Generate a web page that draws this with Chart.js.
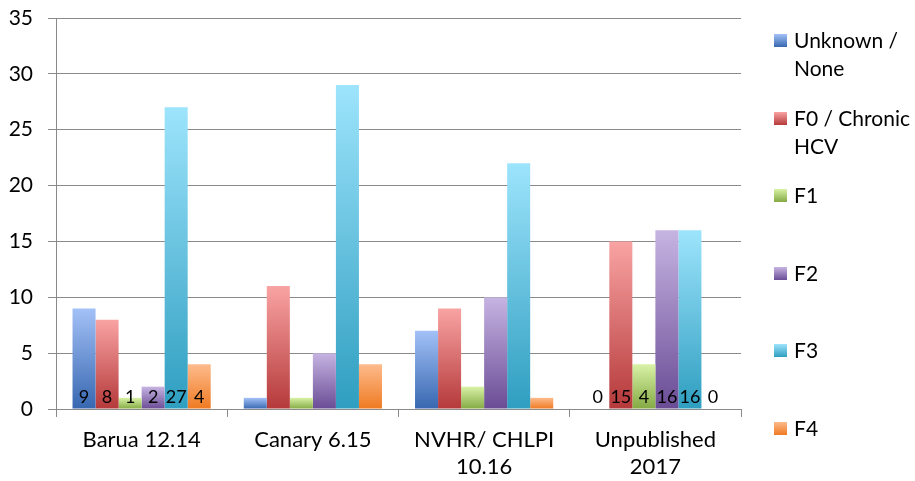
<!doctype html>
<html lang="en">
<head>
<meta charset="UTF-8">
<title>Fibrosis stage by study</title>
<script src="https://cdn.jsdelivr.net/npm/chart.js"></script>
<style>
body{margin:0;background:#fff;font-family:Lato,"Open Sans",sans-serif;}
#wrap{position:relative;width:915px;height:481px;}
#legend{position:absolute;left:774px;top:26px;}
.item{height:77.6px;display:flex;align-items:flex-start;}
.box{width:13px;height:13px;margin-top:8px;margin-right:7px;flex:none;}
.txt{font-size:21px;line-height:28px;color:#000;white-space:nowrap;}
</style>
</head>
<body>
<div id="wrap">
  <canvas id="chart" width="915" height="481"></canvas>
  <div id="legend"></div>
</div>
<script>
/* ---------- data ---------- */
const categories = ['Barua 12.14', 'Canary 6.15', ['NVHR/ CHLPI', '10.16'], ['Unpublished', '2017']];
const seriesNames = [['Unknown /', 'None'], ['F0 / Chronic', 'HCV'], ['F1'], ['F2'], ['F3'], ['F4']];
const unknownNone = [9, 1, 7, 0];
const f0 = [8, 11, 9, 15];
const f1 = [1, 1, 2, 4];
const f2 = [2, 5, 10, 16];
const f3 = [27, 29, 22, 16];
const f4 = [4, 4, 1, 0];
const yTicks = [0, 5, 10, 15, 20, 25, 30, 35];
const labelledGroups = [0, 3];   // only these groups show value labels

/* top / bottom gradient colours per series */
const shades = [
  ['#a3c1f7', '#3767b0'],
  ['#f9a3a3', '#b5393a'],
  ['#d8f2a6', '#84a944'],
  ['#c6b4e2', '#6a4c95'],
  ['#9de4fc', '#2f9ec0'],
  ['#fdbb8c', '#ef7a22']
];
const values = [unknownNone, f0, f1, f2, f3, f4];

function barFill(ctx, i){
  const chart = ctx.chart, y = chart.scales.y;
  if(!y || ctx.raw == null) return shades[i][1];
  const top = y.getPixelForValue(ctx.raw), bot = y.getPixelForValue(0);
  if(!isFinite(top) || bot - top < 1) return shades[i][1];
  const g = chart.ctx.createLinearGradient(0, top, 0, bot);
  g.addColorStop(0, shades[i][0]);
  g.addColorStop(1, shades[i][1]);
  return g;
}

const FONT = 'Lato, "Open Sans", sans-serif';
const GRID = '#8a8a8a';

/* value labels at the foot of the bars */
const footLabels = {
  id: 'footLabels',
  afterDatasetsDraw(chart){
    const c = chart.ctx;
    c.save();
    c.font = '18px ' + FONT;
    c.fillStyle = '#000';
    c.textAlign = 'center';
    c.textBaseline = 'alphabetic';
    chart.data.datasets.forEach((ds, d) => {
      const meta = chart.getDatasetMeta(d);
      labelledGroups.forEach(g => {
        const el = meta.data[g];
        c.fillText(String(ds.data[g]), el.x, el.base - 6);
      });
    });
    c.restore();
  }
};

const chart = new Chart(document.getElementById('chart'), {
  type: 'bar',
  data: {
    labels: categories,
    datasets: values.map((v, i) => ({
      label: seriesNames[i].join(' '),
      data: v,
      backgroundColor: ctx => barFill(ctx, i),
      borderWidth: 0,
      barPercentage: 1,
      categoryPercentage: 0.807
    }))
  },
  options: {
    responsive: false,
    animation: false,
    layout: {padding: {top: 18, right: 174, left: 0, bottom: 0}},
    plugins: {legend: {display: false}, tooltip: {enabled: false}},
    scales: {
      x: {
        grid: {offset: true, drawOnChartArea: false, color: GRID, tickLength: 8},
        border: {color: GRID},
        ticks: {color: '#000', font: {family: FONT, size: 22, lineHeight: 1.24}, padding: 9, maxRotation: 0},
        afterFit: s => { s.height = 72; s.paddingLeft = 0; s.paddingRight = 0; }
      },
      y: {
        min: 0, max: 35,
        afterBuildTicks: s => { s.ticks = yTicks.map(v => ({value: v})); },
        grid: {color: GRID, tickLength: 8},
        border: {color: GRID},
        ticks: {color: '#000', font: {family: FONT, size: 21}, padding: 15},
        afterFit: s => { s.width = 56; s.paddingTop = 0; s.paddingBottom = 0; }
      }
    }
  },
  plugins: [footLabels]
});

/* ---------- legend ---------- */
const legend = document.getElementById('legend');
seriesNames.forEach((name, i) => {
  const item = document.createElement('div');
  item.className = 'item';
  const box = document.createElement('div');
  box.className = 'box';
  box.style.background = `linear-gradient(${shades[i][0]}, ${shades[i][1]})`;
  const txt = document.createElement('div');
  txt.className = 'txt';
  txt.innerHTML = name.join('<br>');
  item.append(box, txt);
  legend.append(item);
});
</script>
</body>
</html>
